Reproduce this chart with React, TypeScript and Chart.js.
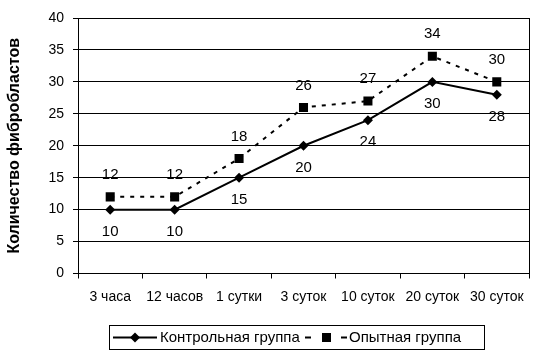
import React, { useEffect, useRef } from "react";
import { Chart, registerables } from "chart.js";

Chart.register(...registerables);

const categories = ["3 часа", "12 часов", "1 сутки", "3 суток", "10 суток", "20 суток", "30 суток"];
const controlValues = [10, 10, 15, 20, 24, 30, 28];
const experimentalValues = [12, 12, 18, 26, 27, 34, 30];
const seriesNames = ["Контрольная группа", "Опытная группа"];
const yTitle = "Количество фибробластов";

const FONT = "'Liberation Sans', Arial, sans-serif";

const extrasPlugin = {
  id: "extras",
  afterDatasetsDraw(chart: any) {
    const ctx = chart.ctx;
    const ca = chart.chartArea;
    ctx.save();
    // right border of plot area
    ctx.strokeStyle = "#000";
    ctx.lineWidth = 1;
    ctx.beginPath();
    ctx.moveTo(Math.round(ca.right) + 0.5, ca.top);
    ctx.lineTo(Math.round(ca.right) + 0.5, ca.bottom);
    ctx.stroke();

    // data labels
    ctx.fillStyle = "#000";
    ctx.font = `15px ${FONT}`;
    ctx.textAlign = "center";
    ctx.textBaseline = "middle";
    chart.data.datasets.forEach((ds: any, i: number) => {
      const meta = chart.getDatasetMeta(i);
      meta.data.forEach((pt: any, j: number) => {
        const off = i === 0 ? 22 : -22;
        ctx.fillText(String(ds.data[j]), pt.x, pt.y + off);
      });
    });

    // y title
    ctx.save();
    ctx.font = `bold 16px ${FONT}`;
    ctx.translate(15, (ca.top + ca.bottom) / 2);
    ctx.rotate(-Math.PI / 2);
    ctx.textAlign = "center";
    ctx.textBaseline = "middle";
    ctx.fillText(yTitle, 0, 0);
    ctx.restore();

    // legend
    const bx = 109.5, by = 325.5, bw = 375, bh = 24;
    ctx.strokeStyle = "#000";
    ctx.lineWidth = 1;
    ctx.strokeRect(bx, by, bw, bh);
    const cy = by + bh / 2;
    ctx.lineWidth = 2;
    ctx.beginPath();
    ctx.moveTo(113, cy);
    ctx.lineTo(157, cy);
    ctx.stroke();
    ctx.beginPath();
    ctx.moveTo(135, cy - 5);
    ctx.lineTo(140, cy);
    ctx.lineTo(135, cy + 5);
    ctx.lineTo(130, cy);
    ctx.closePath();
    ctx.fill();
    ctx.beginPath();
    ctx.moveTo(305, cy);
    ctx.lineTo(311, cy);
    ctx.moveTo(341, cy);
    ctx.lineTo(347, cy);
    ctx.stroke();
    ctx.fillRect(322, cy - 4.5, 9, 9);
    ctx.font = `15px ${FONT}`;
    ctx.textAlign = "left";
    ctx.textBaseline = "middle";
    ctx.fillText(seriesNames[0], 160, cy + 0.5);
    ctx.fillText(seriesNames[1], 349, cy + 0.5);
    ctx.restore();
  },
};

export default function App() {
  const ref = useRef<HTMLCanvasElement>(null);
  useEffect(() => {
    document.body.style.margin = "0";
    const chart = new Chart(ref.current!, {
      type: "line",
      data: {
        labels: categories,
        datasets: [
          {
            label: seriesNames[0],
            data: controlValues,
            borderColor: "#000",
            backgroundColor: "#000",
            borderWidth: 2,
            pointStyle: "rectRot",
            pointRadius: 5,
            pointBorderWidth: 0,
            tension: 0,
          },
          {
            label: seriesNames[1],
            data: experimentalValues,
            borderColor: "#000",
            backgroundColor: "#000",
            borderWidth: 2,
            borderDash: [4, 6],
            pointStyle: "rect",
            pointRadius: 6.4,
            pointBorderWidth: 0,
            tension: 0,
          },
        ],
      },
      options: {
        responsive: false,
        animation: false,
        layout: { padding: { left: 0, top: 18, right: 15, bottom: 0 } },
        plugins: { legend: { display: false }, tooltip: { enabled: false } },
        scales: {
          x: {
            offset: true,
            grid: {
              offset: true,
              drawOnChartArea: false,
              drawTicks: true,
              tickLength: 5,
              color: "#000",
            },
            border: { color: "#000", width: 1 },
            ticks: {
              color: "#000",
              font: { family: FONT, size: 14 },
              padding: 10,
              maxRotation: 0,
              autoSkip: false,
            },
            afterFit: (s: any) => {
              s.height = 84.5;
            },
          },
          y: {
            min: 0,
            max: 40,
            ticks: {
              stepSize: 5,
              color: "#000",
              font: { family: FONT, size: 14 },
              padding: 9,
            },
            grid: { color: "#000", tickLength: 5 },
            border: { color: "#000", width: 1 },
            afterFit: (s: any) => {
              s.width = 78;
            },
          },
        },
      },
      plugins: [extrasPlugin],
    });
    return () => chart.destroy();
  }, []);
  return (
    <div style={{ width: 544, height: 358, background: "#fff" }}>
      <canvas ref={ref} width={544} height={358} style={{ display: "block" }} />
    </div>
  );
}
